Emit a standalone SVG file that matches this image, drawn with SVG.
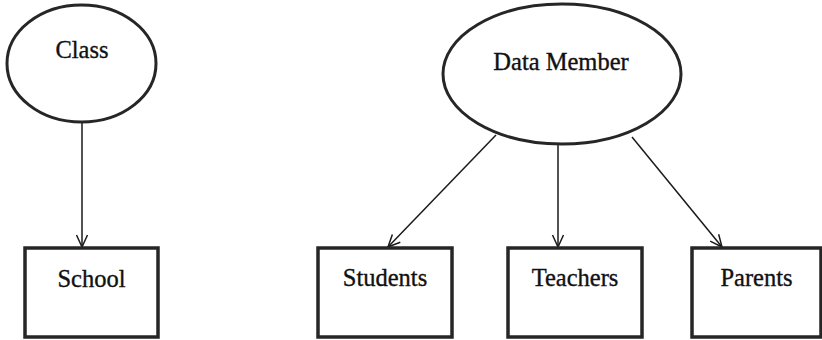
<svg xmlns="http://www.w3.org/2000/svg" width="822" height="340" viewBox="0 0 822 340">
  <style>
    .shape { fill: #ffffff; stroke: #262626; }
    .ell { stroke-width: 3; }
    .box { stroke-width: 3.5; }
    .label { font-family: "Liberation Serif", "Times New Roman", serif; font-size: 24.5px; fill: #111111; stroke: #111111; stroke-width: 0.35; text-anchor: middle; }
    .edge { stroke: #1a1a1a; stroke-width: 1.5; fill: none; marker-end: url(#arrow); }
  </style>
  <defs>
    <marker id="arrow" viewBox="0 0 14 14" refX="13" refY="7" markerWidth="14" markerHeight="14" markerUnits="userSpaceOnUse" orient="auto">
      <path d="M1,1.5 L13,7 L1,12.5" fill="none" stroke="#1a1a1a" stroke-width="1.5"/>
    </marker>
  </defs>
  <rect width="822" height="340" fill="#ffffff"/>

  <g id="edges">
    <line class="edge" x1="82" y1="122" x2="82" y2="247"/>
    <line class="edge" x1="496" y1="135" x2="388" y2="247"/>
    <line class="edge" x1="558" y1="145" x2="558" y2="247"/>
    <line class="edge" x1="632" y1="137" x2="722" y2="247"/>
  </g>

  <g id="class">
    <ellipse class="shape ell" cx="81.5" cy="63.5" rx="74.5" ry="58.5"/>
    <text class="label" x="82" y="58">Class</text>
  </g>
  <g id="data-member">
    <ellipse class="shape ell" cx="562" cy="74" rx="119" ry="70"/>
    <text class="label" x="561" y="70">Data Member</text>
  </g>
  <g id="school">
    <rect class="shape box" x="25" y="248" width="133" height="89"/>
    <text class="label" x="91.5" y="287">School</text>
  </g>
  <g id="students">
    <rect class="shape box" x="318" y="248" width="134" height="89"/>
    <text class="label" x="385" y="286">Students</text>
  </g>
  <g id="teachers">
    <rect class="shape box" x="508" y="248" width="134" height="89"/>
    <text class="label" x="575" y="286">Teachers</text>
  </g>
  <g id="parents">
    <rect class="shape box" x="692" y="248" width="129" height="89"/>
    <text class="label" x="756.5" y="286">Parents</text>
  </g>
</svg>
